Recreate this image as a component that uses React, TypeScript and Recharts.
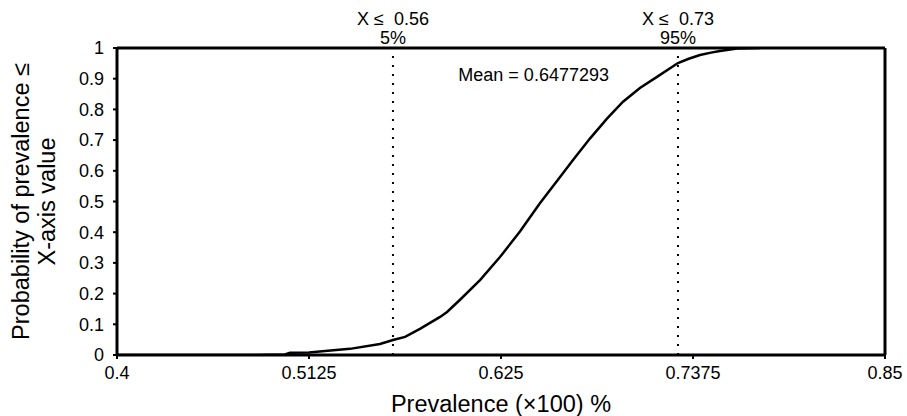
import React from 'react'
import {
  LineChart,
  Line,
  XAxis,
  YAxis,
  ReferenceLine,
  ReferenceDot,
  Label
} from 'recharts'

const prevalence = [
  0.4, 0.45, 0.48, 0.4984, 0.5014, 0.5125, 0.5219, 0.5365, 0.5541, 0.5617,
  0.5688, 0.5775, 0.5893, 0.5934, 0.601, 0.6127, 0.6244, 0.6361, 0.6479,
  0.6596, 0.6672, 0.6771, 0.6871, 0.6965, 0.7064, 0.7164, 0.7287, 0.735,
  0.7416, 0.748, 0.7533, 0.7633, 0.7768
]
const probability = [
  0, 0, 0, 0.002, 0.0075, 0.008, 0.013, 0.02, 0.036, 0.049,
  0.059, 0.085, 0.124, 0.14, 0.18, 0.244, 0.319, 0.402, 0.495,
  0.58, 0.635, 0.705, 0.77, 0.825, 0.87, 0.906, 0.951, 0.965,
  0.977, 0.985, 0.99, 0.998, 1.0
]

const xTicks = [0.4, 0.5125, 0.625, 0.7375, 0.85]
const xTickLabels = ['0.4', '0.5125', '0.625', '0.7375', '0.85']
const yTicks = [0, 0.1, 0.2, 0.3, 0.4, 0.5, 0.6, 0.7, 0.8, 0.9, 1]
const yTickLabels = ['0', '0.1', '0.2', '0.3', '0.4', '0.5', '0.6', '0.7', '0.8', '0.9', '1']

const percentileX = [0.5617, 0.7287]
const percentileTitles = ['X \u2264  0.56', 'X \u2264  0.73']
const percentileLevels = ['5%', '95%']

const meanText = 'Mean = 0.6477293'
const meanAnchor = { x: 0.6, y: 0.912 }

const FONT = '"Liberation Sans", Arial, Helvetica, sans-serif'

const data = prevalence.map((x, i) => ({ x, p: probability[i] }))

const pctLabel = (title: string, level: string) => (props: any) => {
  const vb = props.viewBox || {}
  const cx = vb.x
  return (
    <g>
      <text x={cx} y={vb.y - 23} textAnchor="middle" fontSize={18} fill="#000" style={{ whiteSpace: 'pre' }}>
        {title}
      </text>
      <text x={cx} y={vb.y - 4} textAnchor="middle" fontSize={18} fill="#000">
        {level}
      </text>
    </g>
  )
}

const YTitle = (props: any) => {
  const vb = props.viewBox || {}
  const right = vb.x + vb.width
  const cy = vb.y + vb.height / 2
  return (
    <g fontSize={23.5} fill="#000">
      <text transform={`translate(${right - 88},${cy}) rotate(-90)`} textAnchor="middle">
        {'Probability of prevalence \u2264'}
      </text>
      <text transform={`translate(${right - 62},${cy}) rotate(-90)`} textAnchor="middle">
        X-axis value
      </text>
    </g>
  )
}

const XTitle = (props: any) => {
  const vb = props.viewBox || {}
  return (
    <text x={vb.x + vb.width / 2} y={vb.y + 57} textAnchor="middle" fontSize={23.5} fill="#000">
      {'Prevalence (\u00d7100) %'}
    </text>
  )
}

const MeanLabel = (props: any) => {
  const vb = props.viewBox || {}
  return (
    <text x={vb.x} y={vb.y + 6} fontSize={18} fill="#000">
      {meanText}
    </text>
  )
}

export default function App() {
  return (
    <div style={{ position: 'absolute', left: 0, top: 0, width: 907, height: 416, background: '#fff', fontFamily: FONT }}>
      <LineChart
        width={907}
        height={416}
        data={data}
        margin={{ top: 48, right: 22, bottom: 31, left: 57 }}
      >
        <XAxis
          dataKey="x"
          type="number"
          domain={[0.4, 0.85]}
          ticks={xTicks}
          interval={0}
          allowDataOverflow
          height={30}
          stroke="#000"
          axisLine={{ stroke: '#000', strokeWidth: 3 }}
          tickLine={{ stroke: '#000', strokeWidth: 2 }}
          tickSize={4}
          tickMargin={7}
          tick={{ fill: '#000', fontSize: 18 }}
          tickFormatter={(v: number) => xTickLabels[xTicks.indexOf(v)] ?? String(v)}
        >
          <Label content={XTitle} />
        </XAxis>
        <YAxis
          type="number"
          domain={[0, 1]}
          ticks={yTicks}
          interval={0}
          allowDataOverflow
          width={60}
          stroke="#000"
          axisLine={{ stroke: '#000', strokeWidth: 3 }}
          tickLine={{ stroke: '#000', strokeWidth: 2 }}
          tickSize={4}
          tickMargin={9}
          tick={{ fill: '#000', fontSize: 18 }}
          tickFormatter={(v: number) => yTickLabels[yTicks.indexOf(v)] ?? String(v)}
        >
          <Label content={YTitle} />
        </YAxis>
        <ReferenceLine y={1} stroke="#000" strokeWidth={3} />
        <ReferenceLine x={0.85} stroke="#000" strokeWidth={3} />
        {percentileX.map((px, i) => (
          <ReferenceLine
            key={px}
            x={px}
            stroke="#000"
            strokeWidth={2}
            strokeDasharray="2 7"
            label={pctLabel(percentileTitles[i], percentileLevels[i])}
          />
        ))}
        <ReferenceDot
          x={meanAnchor.x}
          y={meanAnchor.y}
          r={0}
          fill="none"
          stroke="none"
          label={MeanLabel}
        />
        <Line
          type="linear"
          dataKey="p"
          stroke="#000"
          strokeWidth={2.5}
          dot={false}
          activeDot={false}
          isAnimationActive={false}
        />
      </LineChart>
    </div>
  )
}
